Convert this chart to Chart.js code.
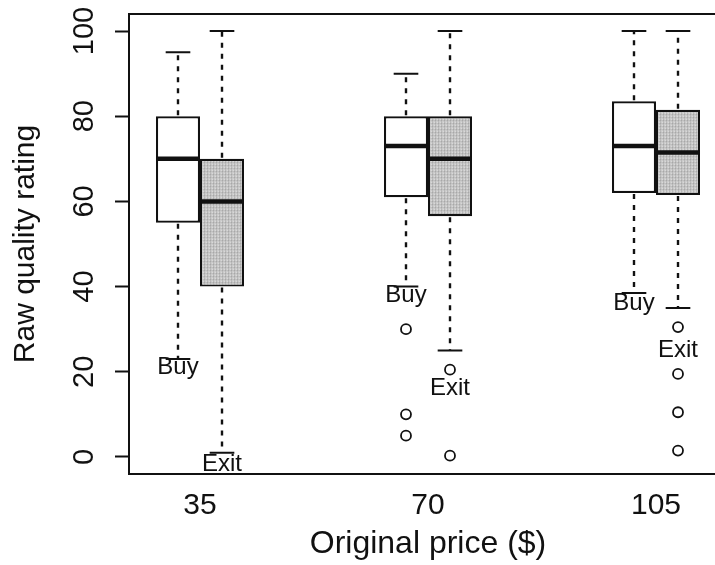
<!DOCTYPE html>
<html>
<head>
<meta charset="utf-8">
<script src="https://cdn.jsdelivr.net/npm/chart.js@4.4.0/dist/chart.umd.min.js"></script>
<style>
  html, body { margin: 0; padding: 0; background: #fff; overflow: hidden; }
  #wrap { position: relative; width: 740px; height: 565px; }
</style>
</head>
<body>
<div id="wrap"><canvas id="c"></canvas></div>
<script>
// Price groups and their positions on the x scale
const prices = ['35', '70', '105'];
const groupPos = [1, 2, 3];
const yTicks = [0, 20, 40, 60, 80, 100];

// Buy ratings: whisker ends, quartiles, medians
const buyLow  = [23, 40, 38.5];
const buyQ1   = [55, 61, 62];
const buyMed  = [70, 73, 73];
const buyQ3   = [80, 80, 83.5];
const buyHigh = [95, 90, 100];

// Exit ratings: whisker ends, quartiles, medians
const exitLow  = [1, 25, 35];
const exitQ1   = [40, 56.5, 61.5];
const exitMed  = [60, 70, 71.5];
const exitQ3   = [70, 80, 81.5];
const exitHigh = [100, 100, 100];

// Points beyond the whiskers
const buyOutliers  = [[], [30, 10, 5], []];
const exitOutliers = [[], [20.5, 0.3], [30.5, 19.5, 10.5, 1.5]];

// Vertical placement of the "Buy" / "Exit" tags
const buyTagY  = [21, 38, 36];
const exitTagY = [-1.8, 16.2, 25];

const FONT = "'Liberation Sans', Arial, Helvetica, sans-serif";
const INK = '#111';
const groupSpan = 0.386;          // share of one group interval taken by the box pair

// grey stipple for the Exit boxes
function stipple() {
  const t = document.createElement('canvas');
  t.width = 3; t.height = 3;
  const g = t.getContext('2d');
  g.fillStyle = '#cbcbcb'; g.fillRect(0, 0, 3, 3);
  g.fillStyle = '#b8b8b8'; g.fillRect(0, 0, 1, 3);
  g.fillStyle = '#bfbfbf'; g.fillRect(0, 0, 3, 1);
  g.fillStyle = '#a8a8a8'; g.fillRect(0, 0, 1, 1);
  g.fillStyle = '#d8d8d8'; g.fillRect(2, 2, 1, 1);
  return document.getElementById('c').getContext('2d').createPattern(t, 'repeat');
}

const boxData = (q1, q3) => groupPos.map((x, i) => ({ x: x, y: [q1[i], q3[i]] }));
const outlierData = (sets, side) => {
  const pts = [];
  sets.forEach((vals, i) => vals.forEach(v => pts.push({ x: groupPos[i] + side * groupSpan / 4, y: v })));
  return pts;
};

const series = [
  { q1: buyQ1, q3: buyQ3, low: buyLow, med: buyMed, high: buyHigh, tagY: buyTagY, tag: 'Buy' },
  { q1: exitQ1, q3: exitQ3, low: exitLow, med: exitMed, high: exitHigh, tagY: exitTagY, tag: 'Exit' }
];

// whiskers, caps, medians, tags and the plot frame
const boxExtras = {
  id: 'boxExtras',
  afterDatasetsDraw(chart) {
    const ctx = chart.ctx;
    const y = chart.scales.y;
    const area = chart.chartArea;
    ctx.save();
    series.forEach((s, di) => {
      const meta = chart.getDatasetMeta(di);
      meta.data.forEach((bar, i) => {
        const cx = bar.x;
        const half = bar.width / 2;
        const top = y.getPixelForValue(s.q3[i]);
        const bottom = y.getPixelForValue(s.q1[i]);
        const hiPx = y.getPixelForValue(s.high[i]);
        const loPx = y.getPixelForValue(s.low[i]);
        const capHalf = bar.width * 0.28;

        ctx.strokeStyle = INK;
        ctx.lineWidth = 2.4;
        ctx.setLineDash([5, 6]);
        ctx.beginPath();
        ctx.moveTo(cx, top - 1); ctx.lineTo(cx, hiPx);
        ctx.moveTo(cx, bottom + 1); ctx.lineTo(cx, loPx);
        ctx.stroke();
        ctx.setLineDash([]);
        ctx.lineWidth = 2;
        ctx.beginPath();
        ctx.moveTo(cx - capHalf, hiPx); ctx.lineTo(cx + capHalf, hiPx);
        ctx.moveTo(cx - capHalf, loPx); ctx.lineTo(cx + capHalf, loPx);
        ctx.stroke();

        const medPx = y.getPixelForValue(s.med[i]);
        ctx.lineWidth = 4.5;
        ctx.beginPath();
        ctx.moveTo(cx - half, medPx); ctx.lineTo(cx + half, medPx);
        ctx.stroke();

        ctx.fillStyle = INK;
        ctx.font = '24px ' + FONT;
        ctx.textAlign = 'center';
        ctx.textBaseline = 'middle';
        ctx.fillText(s.tag, cx, y.getPixelForValue(s.tagY[i]));
      });
    });
    ctx.strokeStyle = INK;
    ctx.lineWidth = 2;
    ctx.strokeRect(area.left, area.top, area.right - area.left, area.bottom - area.top);
    ctx.restore();
  }
};

const pattern = stipple();

new Chart(document.getElementById('c'), {
  type: 'bar',
  data: {
    datasets: [
      { label: 'Buy', data: boxData(buyQ1, buyQ3), backgroundColor: '#ffffff',
        borderColor: INK, borderWidth: 2.2, borderSkipped: false, order: 2 },
      { label: 'Exit', data: boxData(exitQ1, exitQ3), backgroundColor: pattern,
        borderColor: INK, borderWidth: 2.2, borderSkipped: false, order: 2 },
      { type: 'scatter', label: 'Buy outliers', data: outlierData(buyOutliers, -1),
        pointRadius: 5, pointBorderWidth: 1.8, borderColor: INK, backgroundColor: '#ffffff', order: 1 },
      { type: 'scatter', label: 'Exit outliers', data: outlierData(exitOutliers, 1),
        pointRadius: 5, pointBorderWidth: 1.8, borderColor: INK, backgroundColor: '#ffffff', order: 1 }
    ]
  },
  options: {
    responsive: true,
    maintainAspectRatio: false,
    animation: false,
    devicePixelRatio: 1,
    categoryPercentage: groupSpan,
    barPercentage: 1,
    layout: { padding: { left: 0, top: 14, right: 13, bottom: 0 } },
    plugins: { legend: { display: false }, tooltip: { enabled: false } },
    scales: {
      x: {
        type: 'linear',
        offset: false,
        min: 0.6886,
        max: 3.3114,
        grid: { display: false, drawTicks: false },
        border: { display: false },
        afterBuildTicks: s => { s.ticks = groupPos.map(v => ({ value: v })); },
        afterFit: s => { s.height = 91; s.paddingLeft = 0; s.paddingRight = 0; },
        ticks: {
          autoSkip: false, maxRotation: 0, padding: 14, color: INK,
          font: { family: FONT, size: 30 },
          callback: (v) => prices[groupPos.indexOf(v)]
        },
        title: { display: true, text: 'Original price ($)', color: INK,
          font: { family: FONT, size: 32 }, padding: { top: 0, bottom: 2 } }
      },
      y: {
        min: -4,
        max: 104,
        grid: { drawOnChartArea: false, drawTicks: true, tickLength: 14,
          tickColor: INK, tickWidth: 2, color: INK },
        border: { display: false },
        afterBuildTicks: s => { s.ticks = yTicks.map(v => ({ value: v })); },
        afterFit: s => { s.width = 129; s.paddingTop = 0; s.paddingBottom = 0; },
        ticks: {
          autoSkip: false, minRotation: 90, maxRotation: 90, crossAlign: 'center',
          padding: 6, color: INK, font: { family: FONT, size: 29 }
        },
        title: { display: true, text: 'Raw quality rating', color: INK,
          font: { family: FONT, size: 30 }, padding: { top: 8, bottom: 0 } }
      }
    }
  },
  plugins: [boxExtras]
});
</script>
</body>
</html>
